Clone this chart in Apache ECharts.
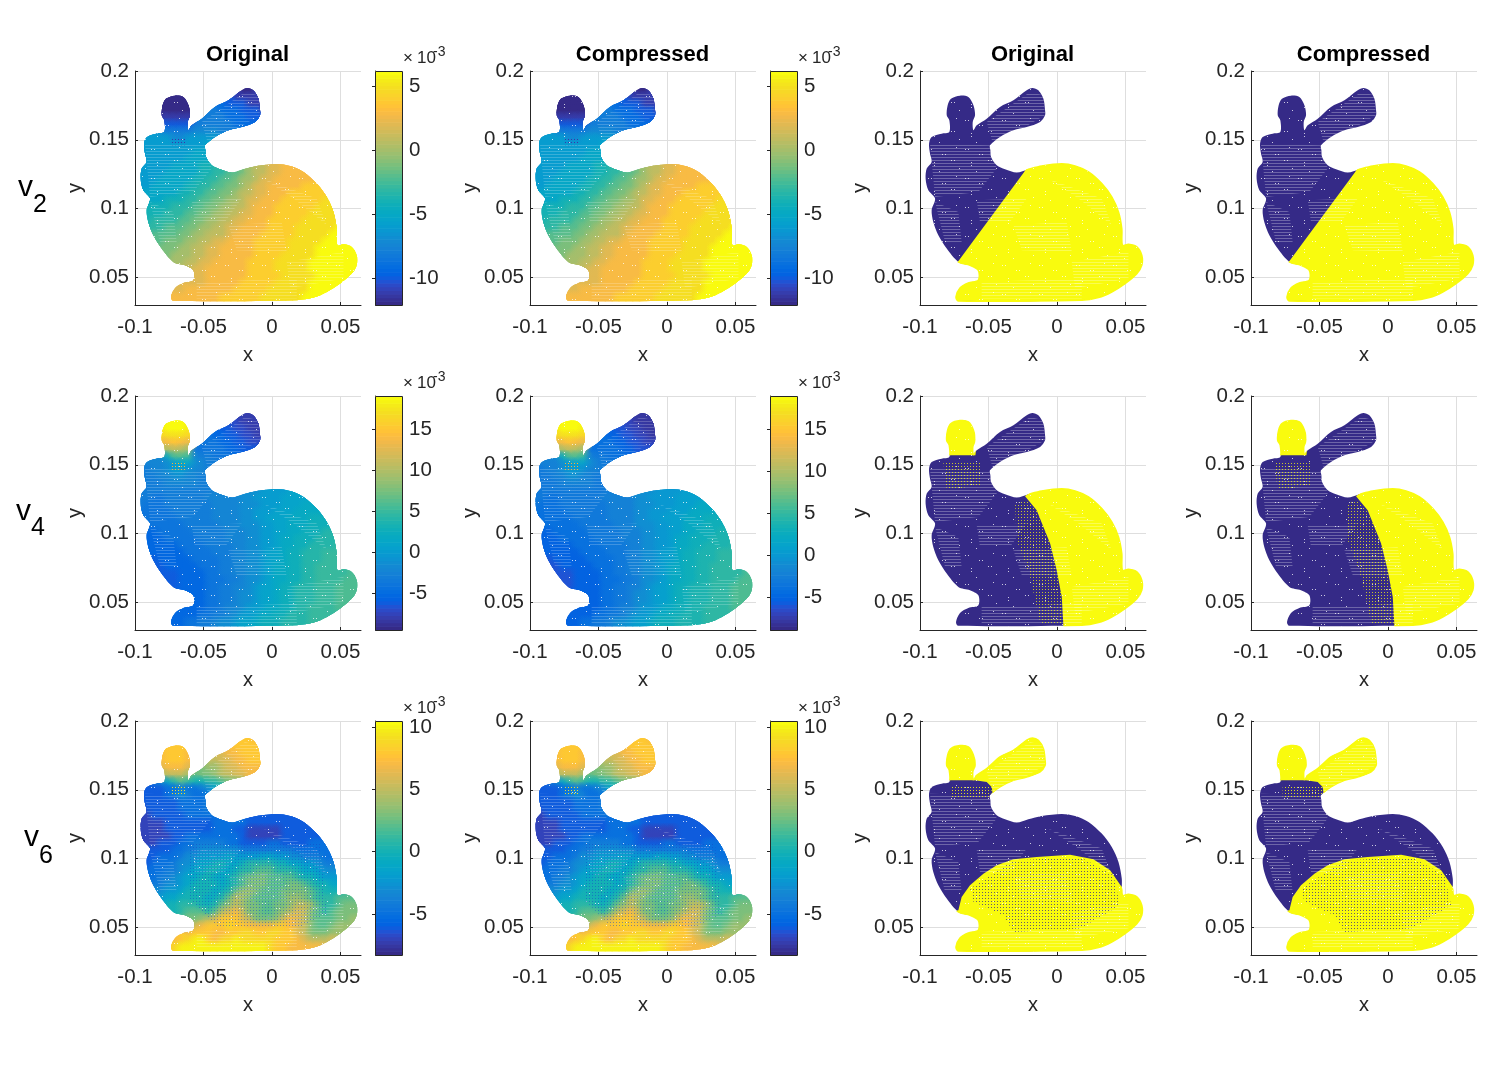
<!DOCTYPE html>
<html><head><meta charset="utf-8">
<script src="https://cdn.jsdelivr.net/npm/echarts@6/dist/echarts.min.js"></script>
<style>html,body{margin:0;background:#fff}#c{width:1493px;height:1074px}</style></head>
<body><div id="c"></div>
<script>
const _ = null;
const xTickValues = [-0.1, -0.05, 0, 0.05];
const xTickLabels = ['-0.1', '-0.05', '0', '0.05'];
const yTickValues = [0.05, 0.1, 0.15, 0.2];
const yTickLabels = ['0.05', '0.1', '0.15', '0.2'];
const columnTitles = ['Original', 'Compressed', 'Original', 'Compressed'];
const rowNames = ['2', '4', '6'];
const barRanges = [[-12.1, 6.2], [-9.4, 19], [-8.3, 10.5]];
const barRangesCompressed = [[-12.1, 6.2], [-8.9, 19], [-8.3, 10.5]];
const barTicks = [[-10, -5, 0, 5], [-5, 0, 5, 10, 15], [-5, 0, 5, 10]];

// silhouette of the point cloud
const outlineX = [-0.0786,-0.0786,-0.0805,-0.0798,-0.0774,-0.0708,-0.0647,-0.0610,-0.0598,-0.0615,-0.0610,-0.0586,-0.0513,-0.0416,-0.0318,-0.0221,-0.0179,-0.0136,-0.0099,-0.0087,-0.0087,-0.0123,-0.0221,-0.0318,-0.0416,-0.0489,-0.0486,-0.0481,-0.0440,-0.0379,-0.0294,-0.0209,-0.0111,0.0035,0.0132,0.0230,0.0327,0.0400,0.0449,0.0473,0.0478,0.0522,0.0583,0.0619,0.0619,0.0583,0.0497,0.0400,0.0303,0.0181,-0.0720,-0.0737,-0.0708,-0.0647,-0.0574,-0.0574,-0.0635,-0.0720,-0.0805,-0.0866,-0.0903,-0.0915,-0.0890,-0.0939,-0.0959,-0.0951,-0.0915,-0.0927,-0.0934,-0.0915,-0.0842];
const outlineY = [0.1557,0.1642,0.1678,0.1751,0.1799,0.1821,0.1811,0.1751,0.1678,0.1630,0.1569,0.1605,0.1654,0.1739,0.1787,0.1860,0.1877,0.1860,0.1799,0.1714,0.1678,0.1630,0.1593,0.1569,0.1521,0.1460,0.1424,0.1375,0.1315,0.1286,0.1262,0.1286,0.1310,0.1325,0.1310,0.1267,0.1182,0.1085,0.0976,0.0855,0.0734,0.0741,0.0722,0.0661,0.0589,0.0528,0.0456,0.0395,0.0354,0.0335,0.0330,0.0359,0.0424,0.0460,0.0480,0.0552,0.0589,0.0613,0.0710,0.0807,0.0903,0.0988,0.1073,0.1133,0.1218,0.1291,0.1339,0.1400,0.1472,0.1521,0.1545];

// sample grid
const gridX = [-0.095,-0.09,-0.085,-0.08,-0.075,-0.07,-0.065,-0.06,-0.055,-0.05,-0.045,-0.04,-0.035,-0.03,-0.025,-0.02,-0.015,-0.01,-0.005,0,0.005,0.01,0.015,0.02,0.025,0.03,0.035,0.04,0.045,0.05,0.055,0.06];
const gridY = [0.185,0.18,0.175,0.17,0.165,0.16,0.155,0.15,0.145,0.14,0.135,0.13,0.125,0.12,0.115,0.11,0.105,0.1,0.095,0.09,0.085,0.08,0.075,0.07,0.065,0.06,0.055,0.05,0.045,0.04,0.035];
const rowStart = [15,4,3,3,3,3,2,1,0,0,0,0,0,0,0,0,1,1,1,1,1,2,2,3,4,5,6,7,7,5,4];

const v2Rows = [
[-12,-12,-11],
[-12,-12,-12,_,_,_,_,_,_,-10,-11,-11,-11,-11],
[-12,-12,-12,-12,-12,_,_,_,-9,-9,-10,-10,-10,-11,-11,-11],
[-12,-12,-12,-12,-12,_,_,-8,-8,-9,-9,-9,-10,-10,-10,-11],
[-11,-11,-11,-11,-11,_,-8,-8,-8,-8,-9,-9,-9,-10,-10,-10],
[-10,-10,-10,-10,-10,-8,-8,-8,-8,-8,-8,-9,-9,-9,-9],
[-6,-7,-8,-8,-8,-8,-7,-7,-7,-7,-8,-8,-8],
[-6,-6,-6,-6,-7,-7,-6,-6,-6,-6,-6,-7],
[-6,-6,-6,-6,-6,-6,-6,-6,-6,-6,-5,-5],
[-6,-6,-6,-6,-6,-6,-6,-6,-5,-5,-5],
[-6,-6,-6,-6,-6,-6,-6,-5,-5,-5,-5],
[-6,-6,-6,-6,-6,-5,-5,-5,-5,-4,-4,-3,-3,_,_,_,0,1,1,2,2,3,3,3,3],
[-6,-6,-6,-6,-5,-5,-5,-5,-5,-4,-4,-3,-3,-2,-2,-1,0,1,1,2,2,3,3,3,3],
[-6,-6,-6,-5,-5,-5,-5,-5,-4,-4,-3,-3,-2,-2,-1,0,0,1,2,2,3,3,3,3,3,3],
[-6,-6,-5,-5,-5,-5,-5,-4,-4,-3,-3,-2,-2,-1,-1,0,1,2,2,3,3,3,3,3,4,4,4],
[-5,-5,-5,-5,-5,-5,-4,-4,-3,-3,-2,-2,-1,-1,0,1,1,2,2,3,3,3,4,4,4,4,4,4],
[-5,-5,-5,-4,-4,-4,-3,-3,-2,-2,-1,-1,0,0,1,2,2,3,3,3,4,4,4,4,4,4,5,5],
[-4,-4,-4,-4,-3,-3,-3,-2,-2,-1,-1,0,0,1,1,2,3,3,3,4,4,4,4,4,4,5,5,5],
[-4,-4,-4,-3,-3,-3,-2,-2,-1,-1,0,0,1,1,2,2,3,3,3,4,4,4,4,4,5,5,5,5,5],
[-4,-3,-3,-3,-3,-2,-2,-1,-1,0,0,1,1,2,2,3,3,3,4,4,4,4,4,5,5,5,5,5,5],
[-3,-3,-3,-2,-2,-2,-1,-1,0,0,1,1,2,2,3,3,3,3,4,4,4,4,5,5,5,5,5,5,6],
[-2,-2,-2,-2,-1,-1,0,0,1,1,1,2,3,3,3,3,4,4,4,4,4,5,5,5,5,5,6,6],
[-2,-2,-1,-1,-1,0,0,1,1,2,2,3,3,3,3,4,4,4,4,4,5,5,5,5,5,6,6,6],
[-1,-1,-1,0,0,1,1,2,2,3,3,3,3,3,4,4,4,4,4,5,5,5,5,6,6,6,6,6,6],
[-1,0,0,0,1,1,2,2,3,3,3,3,3,4,4,4,4,5,5,5,5,5,6,6,6,6,6,6],
[0,0,1,1,2,2,3,3,3,3,3,4,4,4,4,5,5,5,5,5,6,6,6,6,6,6,6],
[1,1,2,2,3,3,3,3,3,3,4,4,4,4,5,5,5,5,5,6,6,6,6,6,6,6],
[2,2,2,3,3,3,3,3,3,4,4,4,4,4,5,5,5,5,5,6,6,6,6,6],
[2,2,2,3,3,3,3,3,4,4,4,4,4,5,5,5,5,5,6,6,6,6,6],
[2,2,3,3,3,3,3,3,3,4,4,4,4,4,5,5,5,5,5,5,6,6,6,6],
[3,3,3,3,3,3,3,3,4,4,4,4,4,4,5,5,5,5,5,5,6,6,6]];

const v4Rows = [
[-8,-8,-8],
[19,19,19,_,_,_,_,_,_,-7,-7,-8,-8,-8],
[18,19,19,19,18,_,_,_,-5,-6,-6,-7,-7,-8,-8,-8],
[16,17,17,17,16,_,_,-4,-5,-5,-6,-6,-7,-7,-8,-8],
[13,14,15,14,13,_,-4,-4,-4,-5,-5,-6,-6,-7,-7,-7],
[9,10,11,10,9,-4,-4,-4,-4,-4,-5,-5,-6,-6,-6],
[-2,-1,3,6,6,5,-2,-3,-3,-4,-4,-4,-5],
[-2,-2,-2,-1,0,1,1,-1,-2,-3,-3,-4],
[-3,-3,-2,-2,-1,0,0,-1,-2,-2,-3,-3],
[-3,-3,-3,-2,-2,-1,-1,-2,-2,-3,-3],
[-3,-3,-3,-3,-2,-2,-2,-2,-2,-3,-3],
[-3,-3,-3,-3,-3,-3,-3,-3,-3,-3,-3,-2,-2,_,_,_,-1,-1,0,0,0,0,1,1,1],
[-3,-3,-4,-4,-3,-3,-3,-3,-3,-3,-2,-2,-2,-2,-2,-1,-1,0,0,0,0,1,1,1,1],
[-3,-4,-4,-4,-3,-3,-3,-3,-3,-3,-3,-2,-2,-2,-2,-1,-1,-1,0,0,0,1,1,1,2,2],
[-4,-4,-4,-4,-4,-3,-3,-3,-3,-3,-3,-2,-2,-2,-2,-1,-1,0,0,0,1,1,1,2,2,2,2],
[-4,-4,-4,-4,-4,-4,-3,-3,-3,-3,-3,-2,-2,-2,-2,-1,-1,0,0,1,1,1,2,2,2,3,3,3],
[-4,-4,-4,-4,-4,-4,-3,-3,-3,-3,-3,-2,-2,-2,-1,-1,-1,0,0,1,1,2,2,2,3,3,3,3],
[-5,-5,-4,-4,-4,-4,-4,-3,-3,-3,-3,-3,-2,-2,-2,-1,-1,0,0,1,1,2,2,3,3,3,4,4],
[-5,-5,-5,-4,-4,-4,-4,-4,-3,-3,-3,-3,-2,-2,-2,-1,-1,0,0,1,2,2,3,3,3,4,4,4,4],
[-5,-5,-5,-5,-5,-4,-4,-4,-4,-3,-3,-3,-3,-2,-2,-1,-1,0,0,1,2,2,3,3,4,4,4,4,5],
[-5,-5,-5,-5,-5,-5,-4,-4,-4,-4,-3,-3,-3,-2,-2,-1,-1,0,1,1,2,3,3,4,4,4,5,5,5],
[-6,-5,-5,-5,-5,-5,-4,-4,-4,-4,-3,-3,-2,-2,-1,-1,0,1,1,2,3,3,4,4,4,5,5,5],
[-6,-6,-5,-5,-5,-5,-5,-4,-4,-4,-3,-3,-2,-2,-1,-1,0,1,2,2,3,3,4,4,5,5,5,5],
[-6,-6,-6,-5,-5,-5,-5,-4,-4,-3,-3,-2,-2,-1,-1,0,1,2,2,3,3,4,4,5,5,5,5,5,6],
[-6,-6,-5,-5,-5,-5,-4,-4,-4,-3,-3,-2,-1,-1,0,1,2,2,3,3,4,4,5,5,5,5,6,6],
[-6,-5,-5,-5,-5,-4,-4,-3,-3,-2,-2,-1,0,1,1,2,3,3,4,4,4,5,5,5,6,6,6],
[-5,-5,-5,-5,-4,-4,-3,-3,-2,-1,-1,0,1,1,2,3,3,4,4,4,5,5,5,6,6,6],
[-5,-5,-5,-4,-4,-3,-3,-2,-1,-1,0,1,1,2,3,3,4,4,4,5,5,5,6,6],
[-5,-5,-5,-4,-4,-3,-2,-2,-1,0,0,1,2,2,3,3,4,4,5,5,5,5,6],
[-5,-5,-5,-5,-4,-4,-3,-3,-2,-1,0,0,1,2,2,3,3,4,4,4,5,5,5,5],
[-5,-5,-5,-4,-4,-3,-3,-2,-1,-1,0,1,1,2,3,3,3,4,4,4,4,5,5]];

const v6Rows = [
[8,8,7],
[8,8,8,_,_,_,_,_,_,7,8,8,8,8],
[7,8,8,8,7,_,_,_,6,6,7,7,8,8,8,8],
[7,8,8,8,7,_,_,5,5,6,6,7,7,8,8,8],
[6,7,7,7,6,_,3,4,4,5,6,6,7,7,7,7],
[4,5,5,5,4,2,3,3,4,5,5,6,6,7,7],
[-4,-3,-1,1,2,1,0,0,1,1,2,3,3],
[-6,-6,-6,-5,-5,-4,-5,-5,-4,-3,-1,0],
[-6,-6,-6,-6,-5,-4,-3,-4,-5,-5,-4,-2],
[-6,-6,-6,-6,-6,-6,-5,-5,-5,-5,-4],
[-7,-6,-6,-6,-6,-6,-5,-5,-5,-5,-4],
[-7,-7,-6,-6,-6,-6,-6,-5,-5,-5,-5,-5,-5,_,_,_,-6,-6,-6,-6,-6,-6,-6,-6,-6],
[-7,-7,-7,-7,-6,-6,-6,-6,-6,-6,-6,-5,-5,-5,-5,-5,-6,-6,-6,-6,-6,-6,-6,-6,-6],
[-7,-7,-7,-7,-6,-6,-6,-6,-6,-6,-6,-5,-5,-5,-6,-6,-7,-7,-7,-7,-7,-6,-6,-6,-6,-6],
[-7,-7,-7,-7,-7,-6,-6,-5,-5,-5,-5,-5,-5,-5,-5,-6,-7,-7,-7,-7,-7,-6,-6,-6,-6,-6,-6],
[-7,-7,-7,-6,-6,-6,-5,-5,-4,-4,-4,-4,-4,-5,-5,-6,-6,-6,-6,-5,-5,-6,-6,-6,-6,-5,-5,-5],
[-6,-6,-6,-6,-5,-5,-4,-4,-3,-3,-3,-3,-3,-3,-4,-4,-4,-4,-4,-4,-4,-4,-5,-5,-5,-5,-5,-5],
[-6,-6,-5,-5,-5,-4,-3,-3,-2,-2,-2,-2,-1,-2,-2,-2,-2,-1,-1,-2,-2,-3,-3,-4,-4,-4,-5,-5],
[-6,-5,-5,-5,-4,-3,-3,-2,-1,-1,0,0,-1,-1,0,1,1,1,1,0,0,-1,-1,-2,-2,-3,-4,-4,-4],
[-5,-5,-5,-4,-4,-3,-2,-1,-1,0,0,-1,-1,0,1,1,2,2,2,1,1,1,0,-1,-1,-2,-3,-3,-3],
[-5,-5,-4,-4,-3,-2,-1,-1,0,0,-1,-1,0,1,2,3,3,3,2,2,2,2,1,0,0,-1,-2,-2,-2],
[-4,-4,-3,-3,-2,-1,0,0,0,0,-1,0,1,2,3,3,3,2,2,2,3,3,2,1,0,0,-1,-1],
[-3,-3,-2,-2,-1,0,0,0,0,-1,0,1,3,4,4,3,2,2,2,3,3,3,3,2,1,0,0,0],
[-2,-1,-1,0,0,0,0,-1,0,1,3,5,4,3,2,2,2,2,3,4,4,3,2,1,1,1,2,2,2],
[0,0,1,1,1,0,0,1,3,4,5,4,3,3,2,2,3,3,4,5,5,4,2,1,1,2,3,3],
[0,1,2,2,2,1,3,5,6,7,5,3,3,2,2,3,4,5,6,5,3,2,1,2,3,3,3],
[2,3,3,4,5,6,8,8,8,6,5,3,3,3,4,6,7,6,5,3,2,2,2,3,3,4],
[5,6,7,8,8,8,9,8,8,7,7,7,7,8,8,7,6,5,3,2,2,3,4,4],
[7,8,8,8,7,7,8,8,9,9,8,8,9,9,8,8,6,5,3,3,3,4,4],
[7,8,9,10,10,8,7,9,9,10,9,9,9,9,9,8,8,8,7,6,5,5,5,6],
[8,9,10,10,10,10,10,10,10,10,10,10,10,10,10,9,8,8,7,7,7,7,7]];
const fieldRows = [v2Rows, v4Rows, v6Rows];

// regions where the right-hand panels turn yellow
const yellowV2 = [[[-0.0722,0.0616],[-0.0226,0.1284],[-0.005,0.14],[0.08,0.2],[0.08,0.02],[-0.08,0.02],[-0.09,0.05]]];
const earLeft = [[-0.09,0.157],[-0.0595,0.157],[-0.0595,0.19],[-0.09,0.19]];
const yellowV4 = [earLeft,[[-0.0233,0.1271],[-0.0148,0.117],[-0.0099,0.1049],[-0.005,0.0928],[-0.0002,0.0734],[0.0035,0.054],[0.0047,0.033],[0.0047,0.02],[0.08,0.02],[0.08,0.2],[-0.005,0.14]]];
const yellowV6 = [earLeft,
 [[-0.0598,0.1569],[-0.0513,0.1557],[-0.0477,0.1521],[-0.0464,0.1448],[0.01,0.14],[0.01,0.2],[-0.0595,0.2]],
 [[-0.072,0.0625],[-0.0696,0.0722],[-0.0635,0.0807],[-0.0537,0.0891],[-0.044,0.0952],[-0.0318,0.0995],[-0.0148,0.1012],[0.0096,0.1029],[0.0266,0.0995],[0.0388,0.0915],[0.0473,0.0794],[0.0485,0.0765],[0.08,0.085],[0.08,0.02],[-0.09,0.02],[-0.09,0.055]]];
const yellowRegions = [yellowV2, yellowV4, yellowV6];

// patches where the point cloud shows horizontal gaps
const gapPatches = [
 [[-0.0927,0.1472],[-0.0489,0.146],[-0.044,0.1291],[-0.0574,0.1121],[-0.089,0.1085]],
 [[-0.0586,0.1061],[-0.0221,0.1073],[-0.0343,0.0903],[-0.0562,0.0903]],
 [[-0.0318,0.0879],[0.0071,0.0903],[0.0108,0.0686],[-0.0257,0.0698]],
 [[-0.0513,0.163],[-0.0197,0.1847],[-0.0099,0.1823],[-0.0087,0.1678],[-0.0464,0.146]],
 [[0.0108,0.0613],[0.0522,0.0686],[0.0522,0.0492],[0.0132,0.0419]],
 [[-0.089,0.1049],[-0.072,0.0976],[-0.0696,0.0758],[-0.0817,0.0758]],
 [[-0.0063,0.1218],[0.0327,0.1073],[0.04,0.0879],[0.0157,0.1073]],
 [[-0.055,0.0468],[0.0181,0.0492],[0.0181,0.0347],[-0.055,0.0347]]];
// patches where points of another value show through
const headDots = [[-0.0744,0.152],[-0.0635,0.152],[-0.0635,0.146],[-0.0744,0.146]];
const headDotColors = ['rgb(60,50,170)', 'rgb(250,180,50)', 'rgb(245,220,40)'];
const v6BodyDots = [[-0.06,0.112],[0.035,0.112],[0.04,0.06],[0.02,0.05],[-0.04,0.05],[-0.06,0.07]];
const v4SignDots = [[[-0.0306,0.1218],[-0.0221,0.1242],[-0.0148,0.117],[-0.0099,0.1049],[-0.005,0.0928],[-0.0002,0.0734],[0.0035,0.054],[0.0047,0.034],[-0.012,0.034],[-0.0197,0.0686],[-0.0294,0.0952]],
 [[-0.083,0.152],[-0.0562,0.152],[-0.0562,0.1351],[-0.0805,0.1315]]];
const v6SignDots = [[[-0.0635,0.0782],[-0.0318,0.0986],[0.0169,0.1012],[0.0412,0.0879],[0.0461,0.0661],[0.0169,0.0492],[-0.0318,0.0468],[-0.0391,0.0589],[-0.061,0.0686]]];
const v6SignHead = [[[-0.0769,0.1521],[-0.0477,0.1521],[-0.0477,0.1448],[-0.0769,0.1448]]];

const parula = [[.2081,.1663,.5292],[.2116,.1898,.5777],[.2123,.2138,.6270],[.2081,.2386,.6771],[.1959,.2645,.7279],[.1707,.2919,.7792],[.1253,.3242,.8303],[.0591,.3598,.8683],[.0117,.3875,.8820],[.0060,.4086,.8828],[.0165,.4266,.8786],[.0329,.4430,.8720],[.0498,.4586,.8641],[.0629,.4737,.8554],[.0723,.4887,.8467],[.0779,.5040,.8384],[.0793,.5200,.8312],[.0749,.5375,.8263],[.0641,.5570,.8240],[.0488,.5772,.8228],[.0343,.5966,.8199],[.0265,.6137,.8135],[.0239,.6287,.8038],[.0231,.6418,.7913],[.0228,.6535,.7768],[.0267,.6642,.7607],[.0384,.6743,.7436],[.0590,.6838,.7254],[.0843,.6928,.7062],[.1133,.7015,.6859],[.1453,.7098,.6646],[.1801,.7177,.6424],[.2178,.7250,.6193],[.2586,.7317,.5954],[.3022,.7376,.5712],[.3482,.7424,.5473],[.3953,.7459,.5244],[.4420,.7481,.5033],[.4871,.7491,.4840],[.5300,.7491,.4661],[.5709,.7485,.4494],[.6099,.7473,.4337],[.6473,.7456,.4188],[.6834,.7435,.4044],[.7184,.7411,.3905],[.7525,.7384,.3768],[.7858,.7356,.3633],[.8185,.7327,.3498],[.8507,.7299,.3360],[.8824,.7274,.3217],[.9139,.7258,.3063],[.9450,.7261,.2886],[.9739,.7314,.2666],[.9938,.7455,.2403],[.9990,.7653,.2164],[.9955,.7861,.1967],[.9880,.8066,.1794],[.9789,.8271,.1633],[.9697,.8481,.1475],[.9626,.8705,.1309],[.9589,.8949,.1132],[.9598,.9218,.0948],[.9661,.9514,.0755],[.9763,.9831,.0538]];

const INK = '#262626', FONT = '"Liberation Sans",Arial,sans-serif';
const colLeft = [135, 530, 920, 1251], rowTop = [71, 396, 721], PW = 226, PH = 234;
const titleCenter = [247.5, 642.5, 1032.5, 1363.5];
const barLeft = [375, 770], BW = 27;
const DARK = 'rgb(53,42,135)', YEL = 'rgb(249,251,14)';
const SMOOTH = 0.3;

function hatchTile(color) {
  const c = document.createElement('canvas'); c.width = 4; c.height = 3;
  const x = c.getContext('2d'); x.fillStyle = color; x.fillRect(0, 1, 4, 1); return c;
}
function dotTile(color) {
  const c = document.createElement('canvas'); c.width = 3; c.height = 3;
  const x = c.getContext('2d'); x.fillStyle = color; x.fillRect(1, 1, 1, 1); return c;
}
function speckTile() {
  const c = document.createElement('canvas'); c.width = 37; c.height = 29;
  const x = c.getContext('2d'); x.fillStyle = 'rgba(255,255,255,0.75)';
  [[3,4],[6,4],[17,9],[20,9],[31,2],[9,17],[9,20],[26,15],[29,15],[34,23],[14,26]].forEach(p => x.fillRect(p[0], p[1], 1, 1));
  return c;
}
function colorOf(v, r, alpha) {
  const t = Math.max(0, Math.min(1, (v - r[0]) / (r[1] - r[0])));
  const c = parula[Math.min(63, Math.floor(t * 64))];
  const s = c.map(k => Math.round(k * 255)).join(',');
  return alpha === undefined ? 'rgb(' + s + ')' : 'rgba(' + s + ',' + alpha + ')';
}
const grids = [], xAxes = [], yAxes = [], series = [], titles = [], graphics = [];
const outlinePoints = outlineX.map((x, i) => [x, outlineY[i]]);

function addPanel(col, row) {
  const g = grids.length;
  grids.push({left: colLeft[col], top: rowTop[row], width: PW, height: PH, containLabel: false});
  xAxes.push({type: 'value', gridIndex: g, min: -0.1, max: 0.065, name: 'x', nameLocation: 'middle', nameGap: 40,
    nameTextStyle: {fontFamily: FONT, fontSize: 20, color: INK},
    axisLine: {onZero: false, lineStyle: {color: INK}},
    axisTick: {inside: true, length: 3, customValues: xTickValues, lineStyle: {color: INK}},
    axisLabel: {customValues: xTickValues, fontFamily: FONT, fontSize: 20.5, color: INK, margin: 12,
      formatter: v => xTickLabels[xTickValues.findIndex(t => Math.abs(t - v) < 1e-6)]},
    splitLine: {show: true, customValues: xTickValues, lineStyle: {color: '#dedede', width: 1}}});
  yAxes.push({type: 'value', gridIndex: g, min: 0.03, max: 0.2, name: 'y', nameLocation: 'middle', nameGap: 50,
    nameTextStyle: {fontFamily: FONT, fontSize: 20, color: INK},
    axisLine: {onZero: false, lineStyle: {color: INK}},
    axisTick: {inside: true, length: 3, customValues: yTickValues, lineStyle: {color: INK}},
    axisLabel: {customValues: yTickValues, fontFamily: FONT, fontSize: 20.5, color: INK, margin: 6, padding: [8, 0, 0, 0],
      formatter: v => yTickLabels[yTickValues.findIndex(t => Math.abs(t - v) < 1e-6)]},
    splitLine: {show: true, customValues: yTickValues, lineStyle: {color: '#dedede', width: 1}}});
  return g;
}
function clipOf(api) {
  return {type: 'polygon', shape: {points: outlinePoints.map(p => api.coord(p)), smooth: SMOOTH}};
}
function fieldData(rows) {
  const out = [];
  rows.forEach((vals, r) => vals.forEach((v, i) => {
    if (v !== null) out.push([gridX[rowStart[r] + i], gridY[r], v]);
  }));
  return out;
}
function addOverlay(g, polys, fill, z) {
  series.push({type: 'custom', coordinateSystem: 'cartesian2d', xAxisIndex: g, yAxisIndex: g, silent: true,
    animation: false, clip: true, encode: {x: 0, y: 1}, z, data: polys.map(r => r[0]),
    renderItem(p, api) {
      return {type: 'polygon', shape: {points: polys[p.dataIndex].map(q => api.coord(q))},
        style: {fill}, clipPath: clipOf(api)};
    }});
}
function addSpecks(g) {
  series.push({type: 'custom', coordinateSystem: 'cartesian2d', xAxisIndex: g, yAxisIndex: g, silent: true,
    animation: false, clip: true, encode: {x: 0, y: 1}, z: 4, data: [outlinePoints[0]],
    renderItem(p, api) {
      return {type: 'polygon', shape: {points: outlinePoints.map(q => api.coord(q)), smooth: SMOOTH},
        style: {fill: {image: speckTile(), repeat: 'repeat'}}};
    }});
}
function addField(g, rows, range, row) {
  const data = fieldData(rows);
  const common = {type: 'custom', coordinateSystem: 'cartesian2d', xAxisIndex: g, yAxisIndex: g, data, silent: true,
    animation: false, progressive: 0, clip: true, encode: {x: 0, y: 1}};
  series.push(Object.assign({}, common, {z: 2, renderItem(p, api) {
    const a = api.coord([api.value(0) - 0.0055, api.value(1) + 0.0055]);
    const b = api.coord([api.value(0) + 0.0055, api.value(1) - 0.0055]);
    return {type: 'rect', shape: {x: a[0], y: a[1], width: b[0] - a[0], height: b[1] - a[1]},
      style: {fill: colorOf(api.value(2), range)}, clipPath: clipOf(api)};
  }}));
  series.push(Object.assign({}, common, {z: 3, renderItem(p, api) {
    const c = api.coord([api.value(0), api.value(1)]), v = api.value(2);
    return {type: 'circle', shape: {cx: c[0], cy: c[1], r: 9},
      style: {fill: new echarts.graphic.RadialGradient(0.5, 0.5, 0.5, [
        {offset: 0, color: colorOf(v, range, 0.95)}, {offset: 1, color: colorOf(v, range, 0)}])},
      clipPath: clipOf(api)};
  }}));
  addOverlay(g, gapPatches, {image: hatchTile('rgba(255,255,255,0.2)'), repeat: 'repeat'}, 4);
  addSpecks(g);
  addOverlay(g, [headDots], {image: dotTile(headDotColors[row]), repeat: 'repeat'}, 5);
  if (row === 2) addOverlay(g, [v6BodyDots], {image: dotTile('rgba(20,70,200,0.5)'), repeat: 'repeat'}, 5);
}
function addSign(g, regions, row) {
  const common = {type: 'custom', coordinateSystem: 'cartesian2d', xAxisIndex: g, yAxisIndex: g, silent: true,
    animation: false, clip: true, encode: {x: 0, y: 1}};
  series.push(Object.assign({}, common, {z: 2, data: [outlinePoints[0]], renderItem(p, api) {
    return {type: 'polygon', shape: {points: outlinePoints.map(q => api.coord(q)), smooth: SMOOTH}, style: {fill: DARK}};
  }}));
  addOverlay(g, regions, YEL, 3);
  // yellow rim over the dark fringe of the clipped edge
  series.push(Object.assign({}, common, {z: 3, data: regions.map(r => r[0]), renderItem(p, api) {
    return {type: 'polygon', shape: {points: outlinePoints.map(q => api.coord(q)), smooth: SMOOTH},
      style: {fill: 'none', stroke: YEL, lineWidth: 1.6},
      clipPath: {type: 'polygon', shape: {points: regions[p.dataIndex].map(q => api.coord(q))}}};
  }}));
  addOverlay(g, gapPatches, {image: hatchTile('rgba(255,255,255,0.28)'), repeat: 'repeat'}, 4);
  addSpecks(g);
  if (row === 1) addOverlay(g, v4SignDots, {image: dotTile('rgba(249,251,14,0.75)'), repeat: 'repeat'}, 5);
  if (row === 2) {
    addOverlay(g, v6SignDots, {image: dotTile('rgba(53,42,135,0.75)'), repeat: 'repeat'}, 5);
    addOverlay(g, v6SignHead, {image: dotTile('rgba(249,251,14,0.85)'), repeat: 'repeat'}, 5);
  }
}
function addBar(col, row, range) {
  const g = grids.length;
  grids.push({left: barLeft[col], top: rowTop[row], width: BW, height: PH});
  xAxes.push({type: 'value', gridIndex: g, min: 0, max: 1, show: false});
  yAxes.push({type: 'value', gridIndex: g, min: range[0], max: range[1], position: 'right',
    axisLine: {show: true, lineStyle: {color: INK}},
    axisTick: {show: true, inside: true, length: 3, customValues: barTicks[row], lineStyle: {color: INK}},
    axisLabel: {customValues: barTicks[row], fontFamily: FONT, fontSize: 20.5, color: INK, margin: 7, padding: [4, 0, 0, 0], formatter: v => String(Math.round(v))},
    splitLine: {show: false}});
  const step = (range[1] - range[0]) / 64;
  series.push({type: 'custom', coordinateSystem: 'cartesian2d', xAxisIndex: g, yAxisIndex: g, silent: true, animation: false, z: 2,
    data: parula.map((c, i) => [0, range[0] + i * step]),
    encode: {x: 0, y: 1},
    renderItem(p, api) {
      const a = api.coord([0, api.value(1) + step]), b = api.coord([1, api.value(1)]);
      return {type: 'rect', shape: {x: a[0], y: a[1], width: b[0] - a[0], height: b[1] - a[1] + 0.6},
        style: {fill: colorOf(api.value(1) + step / 2, range)}};
    }});
  graphics.push({type: 'rect', shape: {x: barLeft[col] + 0.5, y: rowTop[row] + 0.5, width: BW, height: PH}, style: {fill: 'none', stroke: INK, lineWidth: 1}, z: 50});
  graphics.push({type: 'text', x: barLeft[col] + 28, y: rowTop[row] - 21, z: 50,
    style: {text: '×', fontFamily: FONT, fontSize: 17, fill: INK}});
  graphics.push({type: 'text', x: barLeft[col] + 42, y: rowTop[row] - 21, z: 50,
    style: {text: '10', fontFamily: FONT, fontSize: 17, fill: INK}});
  graphics.push({type: 'text', x: barLeft[col] + 58, y: rowTop[row] - 26, z: 50,
    style: {text: '-3', fontFamily: FONT, fontSize: 14, fill: INK}});
}

for (let r = 0; r < 3; r++) {
  addField(addPanel(0, r), fieldRows[r], barRanges[r], r);
  addField(addPanel(1, r), fieldRows[r], barRangesCompressed[r], r);
  addSign(addPanel(2, r), yellowRegions[r], r);
  addSign(addPanel(3, r), yellowRegions[r], r);
  addBar(0, r, barRanges[r]);
  addBar(1, r, barRangesCompressed[r]);
}
columnTitles.forEach((t, i) => titles.push({text: t, left: titleCenter[i], top: 44, textAlign: 'center', padding: 0,
  textStyle: {fontFamily: FONT, fontSize: 22, fontWeight: 'bold', color: '#000'}}));
const rowLabelPos = [[18, 173, 33, 193], [16, 497, 31, 516], [24, 823, 39, 844]];
rowNames.forEach((n, i) => {
  const q = rowLabelPos[i];
  graphics.push({type: 'text', x: q[0], y: q[1], z: 50, style: {text: 'v', fontFamily: FONT, fontSize: 30, fill: '#000'}});
  graphics.push({type: 'text', x: q[2], y: q[3], z: 50, style: {text: n, fontFamily: FONT, fontSize: 25, fill: '#000'}});
});
const chart = echarts.init(document.getElementById('c'), null, {renderer: 'canvas', width: 1493, height: 1074});
chart.setOption({animation: false, backgroundColor: '#fff', title: titles, grid: grids, xAxis: xAxes, yAxis: yAxes, series, graphic: {elements: graphics}});
</script></body></html>
